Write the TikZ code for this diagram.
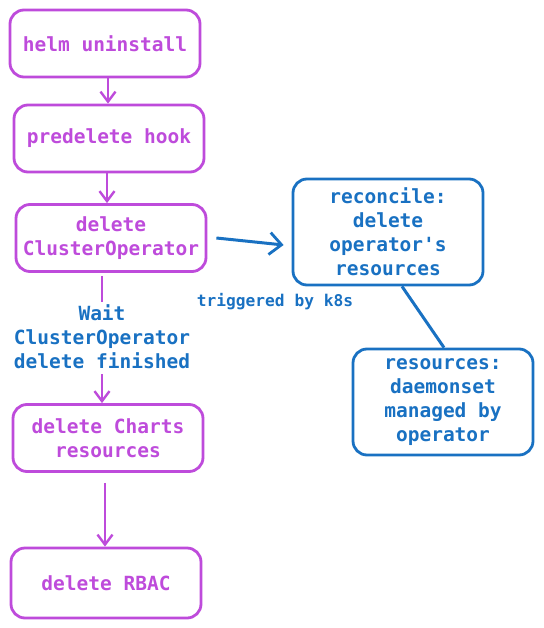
\documentclass[tikz,border=0pt]{standalone}
\usepackage{fontspec}
\setmonofont{DejaVu Sans Mono}
\usetikzlibrary{arrows.meta}
\definecolor{vio}{HTML}{BE4BDB}
\definecolor{blu}{HTML}{1971C2}
\tikzset{
  pbox/.style={draw=vio, line width=2.8pt, rounded corners=14pt, minimum width=190pt, minimum height=67pt, inner sep=0pt, align=center, text=vio, font=\ttfamily\bfseries\fontsize{19.5}{24}\selectfont},
  bbox/.style={pbox, draw=blu, text=blu},
  parr/.style={draw=vio, line width=2.8pt, -{Straight Barb[length=10pt,width=15pt,line width=2.4pt]}},
  pline/.style={draw=vio, line width=2.8pt},
  barr/.style={draw=blu, line width=3pt, -{Straight Barb[length=12pt,width=22pt,line width=2.8pt]}},
  bline/.style={draw=blu, line width=3pt},
  blabel/.style={text=blu, align=center, inner sep=0pt, font=\ttfamily\bfseries\fontsize{19.5}{24}\selectfont},
}
\begin{document}
\begin{tikzpicture}[x=1pt,y=-1pt]
\useasboundingbox (0,0) rectangle (543,628);
\node[pbox] (helm) at (105,43.5) {helm uninstall};
\node[pbox] (pre) at (109,138.5) {predelete hook};
\node[pbox] (dco) at (111,238) {delete\\ClusterOperator};
\node[blabel] (wait) at (102,337) {Wait\\ClusterOperator\\delete finished};
\node[pbox] (charts) at (108,438) {delete Charts\\resources};
\node[pbox, minimum height=70pt] (rbac) at (106,583) {delete RBAC};
\node[bbox, minimum height=106pt] (rec) at (388,232) {reconcile:\\delete\\operator's\\resources};
\node[bbox, minimum width=180pt, minimum height=106pt] (res) at (443,402) {resources:\\daemonset\\managed by\\operator};
\node[text=blu, inner sep=0pt, font=\ttfamily\bfseries\fontsize{16.2}{20}\selectfont] (trig) at (275,302) {triggered by k8s};

\draw[parr] ([xshift=3pt]helm.south) -- ([xshift=-1pt]pre.north);
\draw[parr] ([xshift=-2pt]pre.south) -- ([xshift=-4pt]dco.north);
\draw[pline] ([xshift=-9pt,yshift=-3pt]dco.south) -- ([yshift=3pt]wait.north);
\draw[parr] ([yshift=-5pt]wait.south) -- ([xshift=-6pt]charts.north);
\draw[parr] ([xshift=-3pt,yshift=-10pt]charts.south) -- ([xshift=-1pt]rbac.north);
\draw[barr] ([xshift=9pt,yshift=0pt]dco.east) -- ([xshift=-8pt,yshift=-13pt]rec.west);
\draw[bline] ([xshift=14pt]rec.south) -- ([xshift=1pt]res.north);
\end{tikzpicture}
\end{document}
